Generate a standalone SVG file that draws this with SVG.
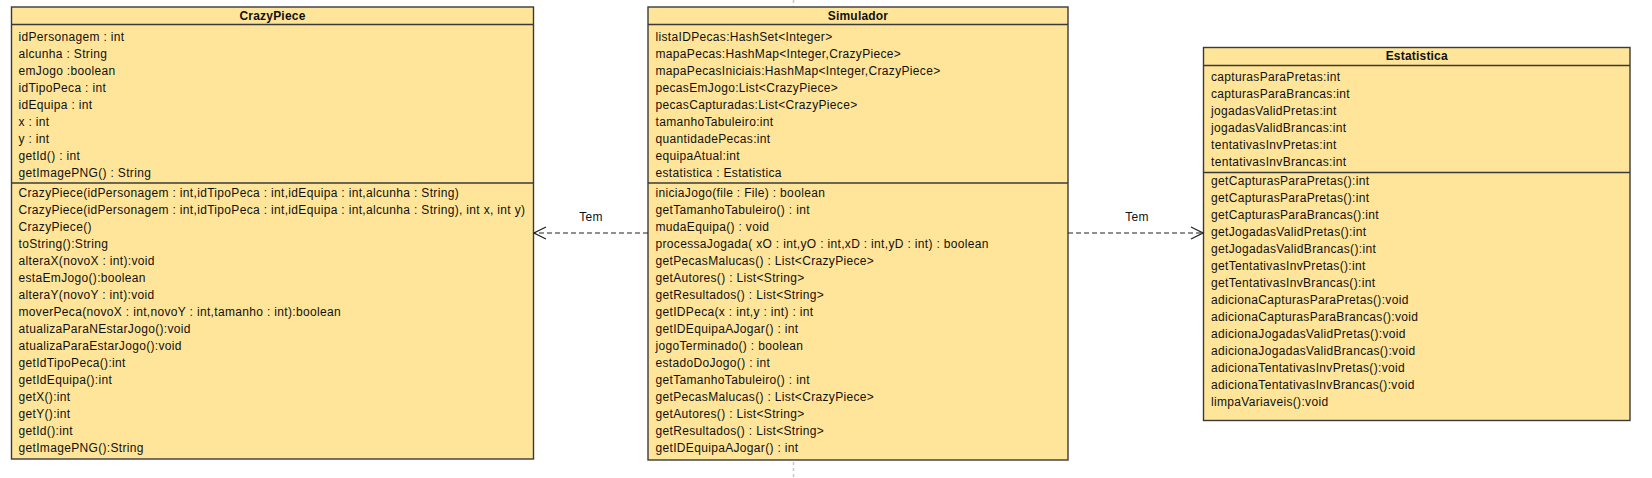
<svg xmlns="http://www.w3.org/2000/svg" width="1652" height="478" viewBox="0 0 1652 478">
<style>
.box{fill:#FFE599;stroke:#3a3a3a;stroke-width:1.4}
.sep{stroke:#3a3a3a;stroke-width:1.4}
.t{font-family:"Liberation Sans",Arial,sans-serif;font-size:12px;letter-spacing:0.33px;fill:#111}
.h{font-weight:bold;text-anchor:middle;letter-spacing:0.2px}
.lbl{text-anchor:middle}
.edge{stroke:#222;stroke-width:1.2;stroke-dasharray:5 3;fill:none}
.page{stroke:#c8c8c8;stroke-width:1.5;stroke-dasharray:3 3}
</style>
<defs>
<marker id="open" viewBox="0 0 14 14" refX="13" refY="7" markerWidth="14" markerHeight="14" markerUnits="userSpaceOnUse" orient="auto">
<path d="M1,1 L13,7 L1,13" fill="none" stroke="#222" stroke-width="1.2" stroke-dasharray="none"/>
</marker>
</defs>
<rect width="1652" height="478" fill="#ffffff"/>
<line class="page" x1="793.5" y1="0" x2="793.5" y2="478"/>

<g id="CrazyPiece">
<rect class="box" x="11.5" y="7" width="522" height="452"/>
<line class="sep" x1="11.5" y1="24.5" x2="533.5" y2="24.5"/>
<line class="sep" x1="11.5" y1="183" x2="533.5" y2="183"/>
<text class="t h" x="272.5" y="19.5">CrazyPiece</text>
<g class="t">
<text x="18.5" y="40.5">idPersonagem : int</text>
<text x="18.5" y="57.5">alcunha : String</text>
<text x="18.5" y="74.5">emJogo :boolean</text>
<text x="18.5" y="91.5">idTipoPeca : int</text>
<text x="18.5" y="108.5">idEquipa : int</text>
<text x="18.5" y="125.5">x : int</text>
<text x="18.5" y="142.5">y : int</text>
<text x="18.5" y="159.5">getId() : int</text>
<text x="18.5" y="176.5">getImagePNG() : String</text>
<text x="18.5" y="196.5">CrazyPiece(idPersonagem : int,idTipoPeca : int,idEquipa : int,alcunha : String)</text>
<text x="18.5" y="213.5">CrazyPiece(idPersonagem : int,idTipoPeca : int,idEquipa : int,alcunha : String), int x, int y)</text>
<text x="18.5" y="230.5">CrazyPiece()</text>
<text x="18.5" y="247.5">toString():String</text>
<text x="18.5" y="264.5">alteraX(novoX : int):void</text>
<text x="18.5" y="281.5">estaEmJogo():boolean</text>
<text x="18.5" y="298.5">alteraY(novoY : int):void</text>
<text x="18.5" y="315.5">moverPeca(novoX : int,novoY : int,tamanho : int):boolean</text>
<text x="18.5" y="332.5">atualizaParaNEstarJogo():void</text>
<text x="18.5" y="349.5">atualizaParaEstarJogo():void</text>
<text x="18.5" y="366.5">getIdTipoPeca():int</text>
<text x="18.5" y="383.5">getIdEquipa():int</text>
<text x="18.5" y="400.5">getX():int</text>
<text x="18.5" y="417.5">getY():int</text>
<text x="18.5" y="434.5">getId():int</text>
<text x="18.5" y="451.5">getImagePNG():String</text>
</g>
</g>

<g id="Simulador">
<rect class="box" x="648" y="7" width="420" height="453"/>
<line class="sep" x1="648" y1="24.5" x2="1068" y2="24.5"/>
<line class="sep" x1="648" y1="183" x2="1068" y2="183"/>
<text class="t h" x="858" y="19.5">Simulador</text>
<g class="t">
<text x="655.5" y="40.5">listaIDPecas:HashSet&lt;Integer&gt;</text>
<text x="655.5" y="57.5">mapaPecas:HashMap&lt;Integer,CrazyPiece&gt;</text>
<text x="655.5" y="74.5">mapaPecasIniciais:HashMap&lt;Integer,CrazyPiece&gt;</text>
<text x="655.5" y="91.5">pecasEmJogo:List&lt;CrazyPiece&gt;</text>
<text x="655.5" y="108.5">pecasCapturadas:List&lt;CrazyPiece&gt;</text>
<text x="655.5" y="125.5">tamanhoTabuleiro:int</text>
<text x="655.5" y="142.5">quantidadePecas:int</text>
<text x="655.5" y="159.5">equipaAtual:int</text>
<text x="655.5" y="176.5">estatistica : Estatistica</text>
<text x="655.5" y="196.5">iniciaJogo(file : File) : boolean</text>
<text x="655.5" y="213.5">getTamanhoTabuleiro() : int</text>
<text x="655.5" y="230.5">mudaEquipa() : void</text>
<text x="655.5" y="247.5">processaJogada( xO : int,yO : int,xD : int,yD : int) : boolean</text>
<text x="655.5" y="264.5">getPecasMalucas() : List&lt;CrazyPiece&gt;</text>
<text x="655.5" y="281.5">getAutores() : List&lt;String&gt;</text>
<text x="655.5" y="298.5">getResultados() : List&lt;String&gt;</text>
<text x="655.5" y="315.5">getIDPeca(x : int,y : int) : int</text>
<text x="655.5" y="332.5">getIDEquipaAJogar() : int</text>
<text x="655.5" y="349.5">jogoTerminado() : boolean</text>
<text x="655.5" y="366.5">estadoDoJogo() : int</text>
<text x="655.5" y="383.5">getTamanhoTabuleiro() : int</text>
<text x="655.5" y="400.5">getPecasMalucas() : List&lt;CrazyPiece&gt;</text>
<text x="655.5" y="417.5">getAutores() : List&lt;String&gt;</text>
<text x="655.5" y="434.5">getResultados() : List&lt;String&gt;</text>
<text x="655.5" y="451.5">getIDEquipaAJogar() : int</text>
</g>
</g>

<g id="Estatistica">
<rect class="box" x="1203.5" y="47.5" width="426.5" height="373"/>
<line class="sep" x1="1203.5" y1="65.5" x2="1630" y2="65.5"/>
<line class="sep" x1="1203.5" y1="172.5" x2="1630" y2="172.5"/>
<text class="t h" x="1416.75" y="60">Estatistica</text>
<g class="t">
<text x="1211" y="80.5">capturasParaPretas:int</text>
<text x="1211" y="97.5">capturasParaBrancas:int</text>
<text x="1211" y="114.5">jogadasValidPretas:int</text>
<text x="1211" y="131.5">jogadasValidBrancas:int</text>
<text x="1211" y="148.5">tentativasInvPretas:int</text>
<text x="1211" y="165.5">tentativasInvBrancas:int</text>
<text x="1211" y="184.8">getCapturasParaPretas():int</text>
<text x="1211" y="201.8">getCapturasParaPretas():int</text>
<text x="1211" y="218.8">getCapturasParaBrancas():int</text>
<text x="1211" y="235.8">getJogadasValidPretas():int</text>
<text x="1211" y="252.8">getJogadasValidBrancas():int</text>
<text x="1211" y="269.8">getTentativasInvPretas():int</text>
<text x="1211" y="286.8">getTentativasInvBrancas():int</text>
<text x="1211" y="303.8">adicionaCapturasParaPretas():void</text>
<text x="1211" y="320.8">adicionaCapturasParaBrancas():void</text>
<text x="1211" y="337.8">adicionaJogadasValidPretas():void</text>
<text x="1211" y="354.8">adicionaJogadasValidBrancas():void</text>
<text x="1211" y="371.8">adicionaTentativasInvPretas():void</text>
<text x="1211" y="388.8">adicionaTentativasInvBrancas():void</text>
<text x="1211" y="405.8">limpaVariaveis():void</text>
</g>
</g>

<g id="connectors">
<path class="edge" d="M648,233 L534,233" marker-end="url(#open)"/>
<text class="t lbl" x="591" y="221">Tem</text>
<path class="edge" d="M1068,233 L1203,233" marker-end="url(#open)"/>
<text class="t lbl" x="1137" y="221">Tem</text>
</g>
</svg>
